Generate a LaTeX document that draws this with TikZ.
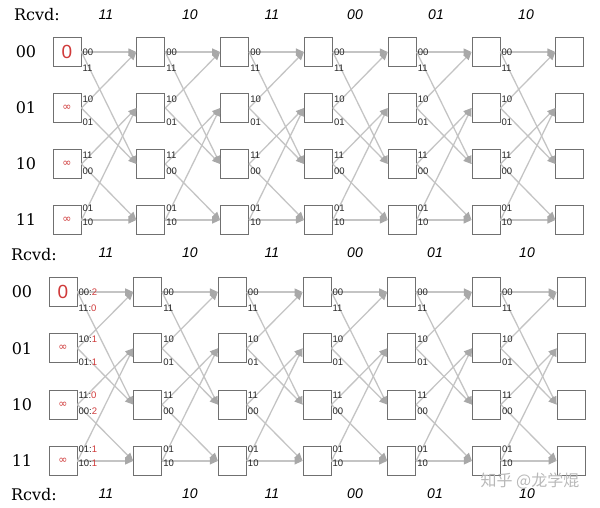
\documentclass[tikz,border=0pt]{standalone}
\usepackage{fontspec}
\setsansfont{Liberation Sans}
\newfontfamily\cjkfont{Noto Sans CJK SC}
\newfontfamily\dvserif{DejaVu Serif}
\newfontfamily\dvsans{DejaVu Sans}
\usetikzlibrary{arrows.meta,calc}
\definecolor{linegray}{HTML}{C4C4C4}
\definecolor{tipgray}{HTML}{A8A8A8}
\definecolor{boxgray}{HTML}{707070}
\definecolor{redd}{HTML}{D03A3A}
\tikzset{
  sbox/.style={draw=boxgray,line width=0.9pt,fill=white,minimum width=28pt,minimum height=29pt,inner sep=0pt},
  edge/.style={draw=linegray,line width=1.3pt,-{Triangle[length=8pt,width=7pt,fill=tipgray,color=tipgray]}},
  lbl/.style={font=\sffamily\fontsize{9.5}{9.5}\selectfont,inner sep=0pt,anchor=west,text=black!85},
  state/.style={font=\dvserif\fontsize{16}{16}\selectfont,inner sep=0pt},
  rcvd/.style={font=\dvserif\fontsize{16}{16}\selectfont,inner sep=0pt,anchor=west},
  recv/.style={font=\sffamily\itshape\fontsize{14}{14}\selectfont,inner sep=0pt},
  zero/.style={inner sep=0pt,text=redd,font=\sffamily\fontsize{19}{19}\selectfont},
  infty/.style={inner sep=0pt,text=redd,font=\dvsans\fontsize{11}{11}\selectfont},
}
\begin{document}
\begin{tikzpicture}[x=1pt,y=-1pt]
\useasboundingbox (0,0) rectangle (600,507);
% ---------- top trellis ----------
\node[rcvd] (TR) at (14,15) {Rcvd:};
\foreach \t [count=\i] /\x in {11/106,10/190,11/272,00/355,01/436,10/526}
  \node[recv] (TRv\i) at (\x,15) {\t};
\foreach \s [count=\r from 0] in {00,01,10,11}
  \node[state] (TS\r) at (26,{52+56*\r}) {\s};
\foreach \c in {0,...,6}
  \foreach \r in {0,...,3}
    \node[sbox] (T\c-\r) at ({67+83.8*\c},{52+56*\r}) {};
\node[zero] (TI0) at (T0-0) {0};
\foreach \r in {1,2,3}
  \node[infty] (TI\r) at (T0-\r) {∞};
\foreach \c [evaluate=\c as \n using int(\c+1)] in {0,...,5}{
  \foreach \r/\u/\d/\lu/\ld/\du/\dd in {0/0/2/00/11/0/16,1/0/2/10/01/-9/14,2/1/3/11/00/-9/7,3/1/3/01/10/-12/2}{
    \draw[edge] (T\c-\r.east) -- (T\n-\u.west);
    \draw[edge] (T\c-\r.east) -- (T\n-\d.west);
    \node[lbl] (TLu\c-\r) at ($(T\c-\r.east)+(1,\du)$) {\lu};
    \node[lbl] (TLd\c-\r) at ($(T\c-\r.east)+(1,\dd)$) {\ld};
  }
}
% ---------- bottom trellis ----------
\node[rcvd] (BR) at (11,255) {Rcvd:};
\node[rcvd] (BR2) at (11,495) {Rcvd:};
\foreach \t [count=\i] /\x in {11/106,10/190,11/272,00/355,01/435,10/527}{
  \node[recv] (BRv\i) at (\x,253) {\t};
  \node[recv] (BRw\i) at (\x,494) {\t};
}
\foreach \s [count=\r from 0] in {00,01,10,11}
  \node[state] (BS\r) at (22,{292+56.3*\r}) {\s};
\foreach \c in {0,...,6}
  \foreach \r in {0,...,3}
    \node[sbox] (B\c-\r) at ({63+84.67*\c},{292+56.3*\r}) {};
\node[zero] (BI0) at (B0-0) {0};
\foreach \r in {1,2,3}
  \node[infty] (BI\r) at (B0-\r) {∞};
\foreach \c [evaluate=\c as \n using int(\c+1)] in {0,...,5}{
  \foreach \r/\u/\d in {0/0/2,1/0/2,2/1/3,3/1/3}{
    \draw[edge] (B\c-\r.east) -- (B\n-\u.west);
    \draw[edge] (B\c-\r.east) -- (B\n-\d.west);
  }
}
\foreach \c in {1,...,5}{
  \foreach \r/\lu/\ld/\du/\dd in {0/00/11/0/16,1/10/01/-9/14,2/11/00/-9/7,3/01/10/-12/2}{
    \node[lbl] (BLu\c-\r) at ($(B\c-\r.east)+(1,\du)$) {\lu};
    \node[lbl] (BLd\c-\r) at ($(B\c-\r.east)+(1,\dd)$) {\ld};
  }
}
\foreach \r/\lu/\mu/\ld/\md/\du/\dd in {0/00/2/11/0/0/16,1/10/1/01/1/-9/14,2/11/0/00/2/-9/7,3/01/1/10/1/-12/2}{
  \node[lbl] (BLu0-\r) at ($(B0-\r.east)+(1,\du)$) {\lu:\textcolor{redd}{\mu}};
  \node[lbl] (BLd0-\r) at ($(B0-\r.east)+(1,\dd)$) {\ld:\textcolor{redd}{\md}};
}
% watermark
\node[inner sep=0pt,text=black!28,font=\cjkfont\fontsize{16}{16}\selectfont] (WM) at (530,481) {知乎 @龙学焜};
\end{tikzpicture}
\end{document}
